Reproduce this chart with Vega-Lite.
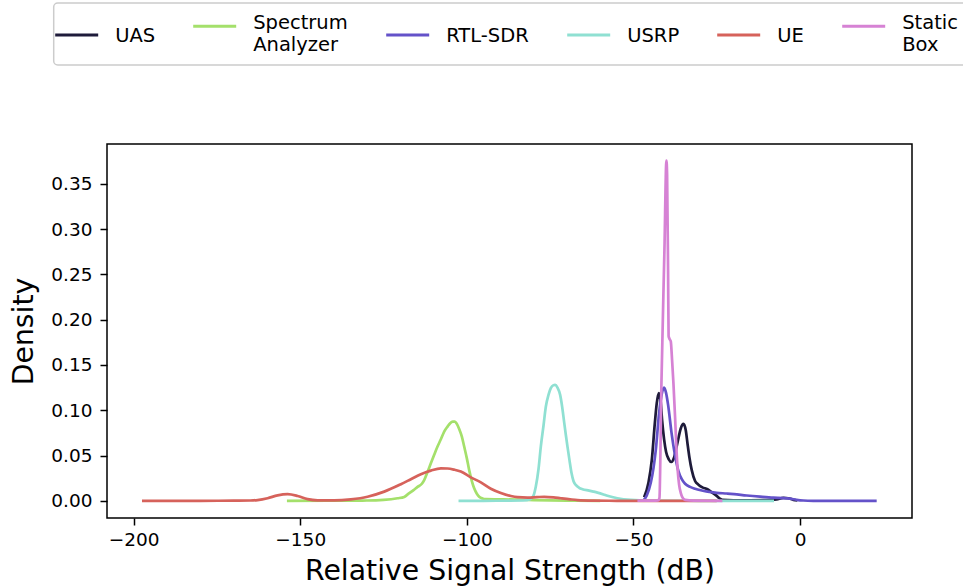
{
  "$schema": "https://vega.github.io/schema/vega-lite/v6.json",
  "width": 805,
  "height": 374,
  "autosize": {"type": "none"},
  "padding": {"left": 107, "top": 144, "right": 51, "bottom": 68},
  "background": "white",
  "config": {
    "font": "DejaVu Sans",
    "view": {"stroke": "black", "strokeWidth": 1.5},
    "axis": {
      "domain": false,
      "grid": false,
      "ticks": true,
      "tickColor": "black",
      "tickWidth": 1.5,
      "tickSize": 7,
      "labelFont": "DejaVu Sans",
      "labelFontSize": 18.5,
      "labelColor": "black",
      "titleFont": "DejaVu Sans",
      "titleFontSize": 28.3,
      "titleFontWeight": "normal",
      "titleColor": "black"
    }
  },
  "data": {
    "values": [
      {"device": "UAS", "dB": -46.8, "density": 0.004},
      {"device": "UAS", "dB": -45.5, "density": 0.02},
      {"device": "UAS", "dB": -44.5, "density": 0.045},
      {"device": "UAS", "dB": -43.6, "density": 0.085},
      {"device": "UAS", "dB": -43.0, "density": 0.108},
      {"device": "UAS", "dB": -42.4, "density": 0.119},
      {"device": "UAS", "dB": -41.9, "density": 0.112},
      {"device": "UAS", "dB": -41.4, "density": 0.089},
      {"device": "UAS", "dB": -40.8, "density": 0.068},
      {"device": "UAS", "dB": -40.2, "density": 0.054},
      {"device": "UAS", "dB": -39.4, "density": 0.046},
      {"device": "UAS", "dB": -38.6, "density": 0.043},
      {"device": "UAS", "dB": -37.8, "density": 0.048},
      {"device": "UAS", "dB": -36.8, "density": 0.064},
      {"device": "UAS", "dB": -35.8, "density": 0.08},
      {"device": "UAS", "dB": -35.0, "density": 0.085},
      {"device": "UAS", "dB": -34.3, "density": 0.078},
      {"device": "UAS", "dB": -33.8, "density": 0.064},
      {"device": "UAS", "dB": -33.2, "density": 0.048},
      {"device": "UAS", "dB": -32.5, "density": 0.034},
      {"device": "UAS", "dB": -31.5, "density": 0.022},
      {"device": "UAS", "dB": -30.5, "density": 0.018},
      {"device": "UAS", "dB": -29.3, "density": 0.015},
      {"device": "UAS", "dB": -27.8, "density": 0.013},
      {"device": "UAS", "dB": -26.5, "density": 0.0095},
      {"device": "UAS", "dB": -25.3, "density": 0.0065},
      {"device": "UAS", "dB": -24.2, "density": 0.003},
      {"device": "UAS", "dB": -23.3, "density": 0.0012},
      {"device": "UAS", "dB": -20, "density": 0.0008},
      {"device": "UAS", "dB": -15, "density": 0.0008},
      {"device": "UAS", "dB": -10, "density": 0.001},
      {"device": "UAS", "dB": -7, "density": 0.0018},
      {"device": "UAS", "dB": -5, "density": 0.0033},
      {"device": "UAS", "dB": -3.5, "density": 0.003},
      {"device": "UAS", "dB": -2, "density": 0.0012},
      {"device": "UAS", "dB": -0.8, "density": 0.0005},

      {"device": "Spectrum Analyzer", "dB": -154, "density": 0.0002},
      {"device": "Spectrum Analyzer", "dB": -140, "density": 0.0003},
      {"device": "Spectrum Analyzer", "dB": -130, "density": 0.0005},
      {"device": "Spectrum Analyzer", "dB": -125, "density": 0.0012},
      {"device": "Spectrum Analyzer", "dB": -120.8, "density": 0.003},
      {"device": "Spectrum Analyzer", "dB": -118.8, "density": 0.0045},
      {"device": "Spectrum Analyzer", "dB": -117.5, "density": 0.008},
      {"device": "Spectrum Analyzer", "dB": -116, "density": 0.012},
      {"device": "Spectrum Analyzer", "dB": -114.8, "density": 0.0155},
      {"device": "Spectrum Analyzer", "dB": -113.5, "density": 0.019},
      {"device": "Spectrum Analyzer", "dB": -112.8, "density": 0.023},
      {"device": "Spectrum Analyzer", "dB": -111.8, "density": 0.032},
      {"device": "Spectrum Analyzer", "dB": -110.8, "density": 0.0416},
      {"device": "Spectrum Analyzer", "dB": -109.8, "density": 0.051},
      {"device": "Spectrum Analyzer", "dB": -108.8, "density": 0.06},
      {"device": "Spectrum Analyzer", "dB": -107.8, "density": 0.068},
      {"device": "Spectrum Analyzer", "dB": -106.8, "density": 0.0765},
      {"device": "Spectrum Analyzer", "dB": -105.8, "density": 0.082},
      {"device": "Spectrum Analyzer", "dB": -105.0, "density": 0.0858},
      {"device": "Spectrum Analyzer", "dB": -104.2, "density": 0.0875},
      {"device": "Spectrum Analyzer", "dB": -103.6, "density": 0.0876},
      {"device": "Spectrum Analyzer", "dB": -103.0, "density": 0.085},
      {"device": "Spectrum Analyzer", "dB": -102.3, "density": 0.0795},
      {"device": "Spectrum Analyzer", "dB": -101.5, "density": 0.071},
      {"device": "Spectrum Analyzer", "dB": -100.8, "density": 0.06},
      {"device": "Spectrum Analyzer", "dB": -100.0, "density": 0.047},
      {"device": "Spectrum Analyzer", "dB": -99.3, "density": 0.034},
      {"device": "Spectrum Analyzer", "dB": -98.5, "density": 0.022},
      {"device": "Spectrum Analyzer", "dB": -97.8, "density": 0.014},
      {"device": "Spectrum Analyzer", "dB": -97.0, "density": 0.008},
      {"device": "Spectrum Analyzer", "dB": -96.3, "density": 0.0047},
      {"device": "Spectrum Analyzer", "dB": -95.3, "density": 0.0027},
      {"device": "Spectrum Analyzer", "dB": -94.3, "density": 0.002},
      {"device": "Spectrum Analyzer", "dB": -90, "density": 0.0018},
      {"device": "Spectrum Analyzer", "dB": -85, "density": 0.0015},
      {"device": "Spectrum Analyzer", "dB": -80, "density": 0.001},
      {"device": "Spectrum Analyzer", "dB": -75, "density": 0.0007},
      {"device": "Spectrum Analyzer", "dB": -70, "density": 0.0004},
      {"device": "Spectrum Analyzer", "dB": -60, "density": 0.0002},

      {"device": "RTL-SDR", "dB": -47, "density": 0.0005},
      {"device": "RTL-SDR", "dB": -46, "density": 0.006},
      {"device": "RTL-SDR", "dB": -44.8, "density": 0.02},
      {"device": "RTL-SDR", "dB": -44.0, "density": 0.036},
      {"device": "RTL-SDR", "dB": -43.3, "density": 0.056},
      {"device": "RTL-SDR", "dB": -42.3, "density": 0.097},
      {"device": "RTL-SDR", "dB": -41.5, "density": 0.118},
      {"device": "RTL-SDR", "dB": -40.8, "density": 0.125},
      {"device": "RTL-SDR", "dB": -40.2, "density": 0.119},
      {"device": "RTL-SDR", "dB": -39.6, "density": 0.106},
      {"device": "RTL-SDR", "dB": -38.6, "density": 0.076},
      {"device": "RTL-SDR", "dB": -37.5, "density": 0.05},
      {"device": "RTL-SDR", "dB": -36.5, "density": 0.033},
      {"device": "RTL-SDR", "dB": -35.5, "density": 0.024},
      {"device": "RTL-SDR", "dB": -34.5, "density": 0.019},
      {"device": "RTL-SDR", "dB": -33, "density": 0.0155},
      {"device": "RTL-SDR", "dB": -31.5, "density": 0.0135},
      {"device": "RTL-SDR", "dB": -29.8, "density": 0.0118},
      {"device": "RTL-SDR", "dB": -27.8, "density": 0.0103},
      {"device": "RTL-SDR", "dB": -25, "density": 0.009},
      {"device": "RTL-SDR", "dB": -22, "density": 0.0082},
      {"device": "RTL-SDR", "dB": -19.8, "density": 0.0075},
      {"device": "RTL-SDR", "dB": -16, "density": 0.006},
      {"device": "RTL-SDR", "dB": -12, "density": 0.0047},
      {"device": "RTL-SDR", "dB": -8, "density": 0.0036},
      {"device": "RTL-SDR", "dB": -5, "density": 0.0032},
      {"device": "RTL-SDR", "dB": -3, "density": 0.0025},
      {"device": "RTL-SDR", "dB": -1, "density": 0.0012},
      {"device": "RTL-SDR", "dB": 1, "density": 0.0005},
      {"device": "RTL-SDR", "dB": 4, "density": 0.0002},
      {"device": "RTL-SDR", "dB": 10, "density": 0.0001},
      {"device": "RTL-SDR", "dB": 23, "density": 0.0001},

      {"device": "USRP", "dB": -102.5, "density": 0.0002},
      {"device": "USRP", "dB": -95, "density": 0.0002},
      {"device": "USRP", "dB": -88, "density": 0.0003},
      {"device": "USRP", "dB": -83, "density": 0.0005},
      {"device": "USRP", "dB": -81, "density": 0.002},
      {"device": "USRP", "dB": -80, "density": 0.006},
      {"device": "USRP", "dB": -79.3, "density": 0.016},
      {"device": "USRP", "dB": -78.5, "density": 0.035},
      {"device": "USRP", "dB": -77.8, "density": 0.06},
      {"device": "USRP", "dB": -77.0, "density": 0.083},
      {"device": "USRP", "dB": -76.3, "density": 0.104},
      {"device": "USRP", "dB": -75.5, "density": 0.117},
      {"device": "USRP", "dB": -74.8, "density": 0.1244},
      {"device": "USRP", "dB": -74.1, "density": 0.1275},
      {"device": "USRP", "dB": -73.5, "density": 0.128},
      {"device": "USRP", "dB": -72.8, "density": 0.125},
      {"device": "USRP", "dB": -72.0, "density": 0.117},
      {"device": "USRP", "dB": -71.4, "density": 0.104},
      {"device": "USRP", "dB": -70.8, "density": 0.087},
      {"device": "USRP", "dB": -70.3, "density": 0.073},
      {"device": "USRP", "dB": -69.8, "density": 0.06},
      {"device": "USRP", "dB": -69.2, "density": 0.045},
      {"device": "USRP", "dB": -68.6, "density": 0.031},
      {"device": "USRP", "dB": -68.0, "density": 0.022},
      {"device": "USRP", "dB": -67.3, "density": 0.0177},
      {"device": "USRP", "dB": -66.3, "density": 0.0145},
      {"device": "USRP", "dB": -65.3, "density": 0.0129},
      {"device": "USRP", "dB": -63.3, "density": 0.0114},
      {"device": "USRP", "dB": -62.0, "density": 0.0103},
      {"device": "USRP", "dB": -60.8, "density": 0.0092},
      {"device": "USRP", "dB": -59.0, "density": 0.0072},
      {"device": "USRP", "dB": -57.8, "density": 0.0057},
      {"device": "USRP", "dB": -54.8, "density": 0.003},
      {"device": "USRP", "dB": -50.8, "density": 0.0012},
      {"device": "USRP", "dB": -45, "density": 0.0004},
      {"device": "USRP", "dB": -30, "density": 0.0002},
      {"device": "USRP", "dB": -7.8, "density": 0.0001},

      {"device": "UE", "dB": -197.5, "density": 0.0002},
      {"device": "UE", "dB": -180, "density": 0.0002},
      {"device": "UE", "dB": -170, "density": 0.0003},
      {"device": "UE", "dB": -165, "density": 0.0005},
      {"device": "UE", "dB": -162.8, "density": 0.001},
      {"device": "UE", "dB": -159.8, "density": 0.003},
      {"device": "UE", "dB": -156.8, "density": 0.0062},
      {"device": "UE", "dB": -153.8, "density": 0.0075},
      {"device": "UE", "dB": -150.8, "density": 0.0055},
      {"device": "UE", "dB": -147.8, "density": 0.002},
      {"device": "UE", "dB": -144.8, "density": 0.0007},
      {"device": "UE", "dB": -139.8, "density": 0.0006},
      {"device": "UE", "dB": -134.8, "density": 0.0018},
      {"device": "UE", "dB": -129.8, "density": 0.0047},
      {"device": "UE", "dB": -124.8, "density": 0.0103},
      {"device": "UE", "dB": -119.8, "density": 0.0185},
      {"device": "UE", "dB": -116.8, "density": 0.024},
      {"device": "UE", "dB": -113.8, "density": 0.0295},
      {"device": "UE", "dB": -110.8, "density": 0.0335},
      {"device": "UE", "dB": -107.8, "density": 0.036},
      {"device": "UE", "dB": -105.8, "density": 0.0358},
      {"device": "UE", "dB": -103.8, "density": 0.0345},
      {"device": "UE", "dB": -101.8, "density": 0.0324},
      {"device": "UE", "dB": -98.8, "density": 0.026},
      {"device": "UE", "dB": -95.8, "density": 0.0205},
      {"device": "UE", "dB": -92.8, "density": 0.0135},
      {"device": "UE", "dB": -89.8, "density": 0.0088},
      {"device": "UE", "dB": -86.8, "density": 0.0055},
      {"device": "UE", "dB": -84.8, "density": 0.0042},
      {"device": "UE", "dB": -81.8, "density": 0.0037},
      {"device": "UE", "dB": -79, "density": 0.0042},
      {"device": "UE", "dB": -76.8, "density": 0.0046},
      {"device": "UE", "dB": -74, "density": 0.004},
      {"device": "UE", "dB": -71.8, "density": 0.003},
      {"device": "UE", "dB": -69, "density": 0.0018},
      {"device": "UE", "dB": -66.8, "density": 0.001},
      {"device": "UE", "dB": -62, "density": 0.0004},
      {"device": "UE", "dB": -55, "density": 0.0002},
      {"device": "UE", "dB": -40, "density": 0.0002},
      {"device": "UE", "dB": -25, "density": 0.0001},

      {"device": "Static Box", "dB": -48.8, "density": 0.0003},
      {"device": "Static Box", "dB": -44, "density": 0.0003},
      {"device": "Static Box", "dB": -42.6, "density": 0.0005},
      {"device": "Static Box", "dB": -42.2, "density": 0.003},
      {"device": "Static Box", "dB": -41.6, "density": 0.13},
      {"device": "Static Box", "dB": -40.7, "density": 0.277},
      {"device": "Static Box", "dB": -40.1, "density": 0.3755},
      {"device": "Static Box", "dB": -39.9, "density": 0.36},
      {"device": "Static Box", "dB": -39.6, "density": 0.25},
      {"device": "Static Box", "dB": -39.45, "density": 0.182},
      {"device": "Static Box", "dB": -39.2, "density": 0.179},
      {"device": "Static Box", "dB": -38.8, "density": 0.176},
      {"device": "Static Box", "dB": -38.4, "density": 0.155},
      {"device": "Static Box", "dB": -38.0, "density": 0.13},
      {"device": "Static Box", "dB": -37.5, "density": 0.092},
      {"device": "Static Box", "dB": -37.1, "density": 0.058},
      {"device": "Static Box", "dB": -36.7, "density": 0.033},
      {"device": "Static Box", "dB": -36.3, "density": 0.018},
      {"device": "Static Box", "dB": -35.8, "density": 0.009},
      {"device": "Static Box", "dB": -35.3, "density": 0.004},
      {"device": "Static Box", "dB": -34.5, "density": 0.0012},
      {"device": "Static Box", "dB": -32, "density": 0.0003},
      {"device": "Static Box", "dB": -23.3, "density": 0.0002}
    ]
  },
  "mark": {"type": "line", "strokeWidth": 2.7, "interpolate": "monotone"},
  "encoding": {
    "x": {
      "field": "dB",
      "type": "quantitative",
      "scale": {"domain": [-208, 33.6], "nice": false, "zero": false},
      "axis": {
        "title": "Relative Signal Strength (dB)",
        "values": [-200, -150, -100, -50, 0],
        "format": "d",
        "labelExpr": "replace(datum.label, '-', '\u2212')",
        "labelPadding": 5,
        "titlePadding": 9
      }
    },
    "y": {
      "field": "density",
      "type": "quantitative",
      "scale": {"domain": [-0.0188, 0.3938], "nice": false, "zero": false},
      "axis": {
        "title": "Density",
        "values": [0, 0.05, 0.1, 0.15, 0.2, 0.25, 0.3, 0.35],
        "format": ".2f",
        "labelPadding": 8,
        "titlePadding": 12
      }
    },
    "color": {
      "field": "device",
      "type": "nominal",
      "sort": null,
      "scale": {
        "domain": ["UAS", "Spectrum Analyzer", "RTL-SDR", "USRP", "UE", "Static Box"],
        "range": ["#1e1b3a", "#a4e06b", "#6452c9", "#8fe0d2", "#d6625b", "#d682d4"]
      },
      "legend": {
        "orient": "none",
        "legendX": -53.3,
        "legendY": -141,
        "direction": "horizontal",
        "columns": 6,
        "title": null,
        "symbolType": "M-2,0H2",
        "symbolSize": 462,
        "symbolStrokeWidth": 3,
        "symbolFillColor": "transparent",
        "labelFont": "DejaVu Sans",
        "labelFontSize": 19.5,
        "labelColor": "black",
        "labelOffset": 26,
        "labelLimit": 300,
        "labelBaseline": "top",
        "columnPadding": 32,
        "padding": 10.5,
        "strokeColor": "#cccccc",
        "fillColor": "white",
        "cornerRadius": 4,
        "labelExpr": "datum.label == 'Spectrum Analyzer' ? ['Spectrum', 'Analyzer'] : datum.label == 'Static Box' ? ['Static', 'Box'] : datum.label",
        "encode": {
          "labels": {"update": {
            "lineHeight": {"value": 22},
            "dy": {"signal": "datum.value == 'Spectrum Analyzer' || datum.value == 'Static Box' ? -12.5 : -8"}
          }},
          "legend": {"update": {"strokeWidth": {"value": 1.5}}}
        }
      }
    }
  }
}
